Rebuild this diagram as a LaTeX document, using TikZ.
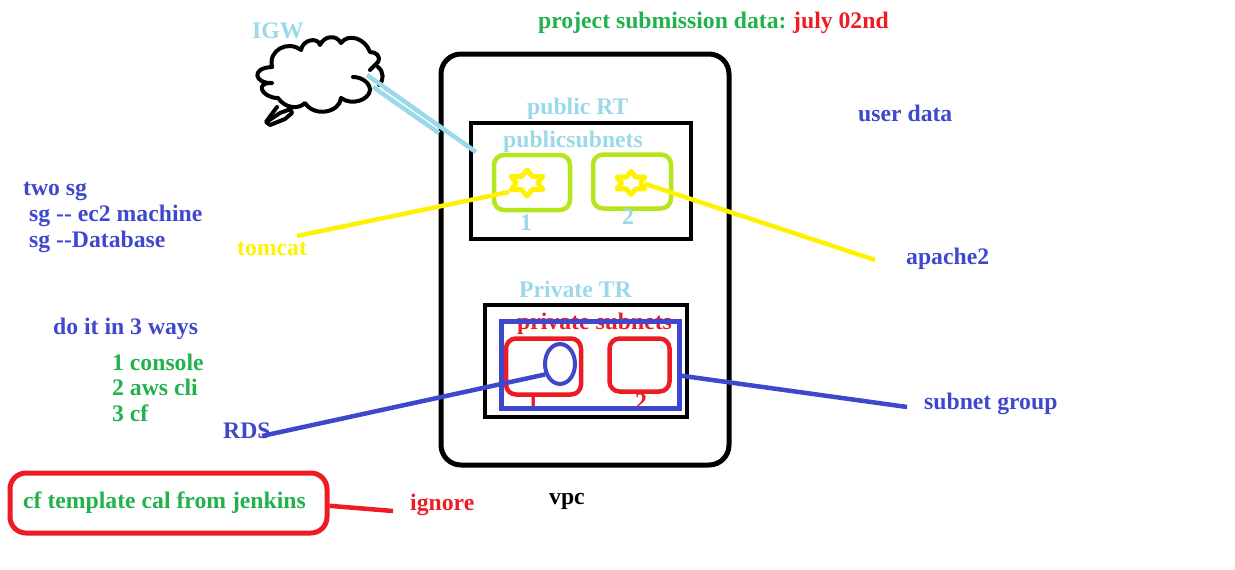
\documentclass[tikz,border=0pt]{standalone}
\usepackage{fontspec}
\setmainfont{Liberation Serif}
\usetikzlibrary{shapes.geometric}
\definecolor{skyblue}{HTML}{99D9EA}
\definecolor{paintgreen}{HTML}{22B14C}
\definecolor{paintred}{HTML}{ED1C24}
\definecolor{paintblue}{HTML}{3F48CC}
\definecolor{paintyellow}{HTML}{FFF200}
\definecolor{paintlime}{HTML}{B5E61D}
\begin{document}
\begin{tikzpicture}[x=1pt, y=-1pt,
  label/.style={inner sep=0pt, anchor=west, text height=18pt, text depth=4pt, font=\fontsize{23.7}{28}\selectfont\bfseries},
  box/.style={draw, line width=4.5pt, inner sep=0pt, minimum width=#1},
  subnetbox/.style={box=#1, rounded corners=10pt},
  starmark/.style={draw=paintyellow, star, star points=6, star point ratio=1.7, line width=5pt, line join=round, inner sep=0pt, minimum size=#1, xscale=1.4},
  link/.style={line width=4.5pt},
  cloudline/.style={line width=4pt, line cap=round, line join=round}]
\useasboundingbox (0,0) rectangle (1235,570);
% outer vpc
\node (vpc) at (585,259.5) [box=288pt, minimum height=411pt, line width=5pt, rounded corners=20pt] {};
\node (vpclabel) at (549,497) [label] {vpc};
% igw cloud
\draw[cloudline] (272,67) .. controls (268,50) and (288,40) .. (301,50)
  .. controls (303,39) and (318,37) .. (320,45)
  .. controls (324,36) and (336,34) .. (341,43)
  .. controls (348,33) and (365,38) .. (370,52)
  .. controls (376,52) and (381,56) .. (378,62) -- (370,70);
\draw[cloudline] (378,67) .. controls (384,72) and (384,80) .. (379,85);
\draw[cloudline] (353,77) .. controls (362,77) and (370,83) .. (370,90)
  .. controls (369,100) and (352,106) .. (341,98)
  .. controls (340,112) and (315,118) .. (305,103)
  .. controls (298,110) and (285,108) .. (278,98)
  .. controls (262,98) and (254,82) .. (272,83)
  .. controls (255,84) and (250,68) .. (272,67);
\draw[cloudline] (277,107) -- (266,122) -- (270,125) -- (285,119) -- (292,113) -- (290,108);
\draw[cloudline] (268,121) -- (280,113) -- (288,110);
\node (igw) at (252,31) [label, text=skyblue] {IGW};
% title
\node (title) at (538,21) [label, text=paintgreen] {project submission data:};
\node (titledate) at (793,21) [label, text=paintred] {july 02nd};
\node (userdata) at (858,114) [label, text=paintblue] {user data};
% public part
\node (publicrt) at (527,107) [label, text=skyblue] {public RT};
\node (publicbox) at (581,181) [box=220pt, minimum height=116pt] {};
\node (publicnets) at (503,140) [label, text=skyblue] {publicsubnets};
\node (pubnet1) at (532,182.5) [subnetbox=76pt, draw=paintlime, minimum height=55pt] {};
\node (pubnet2) at (632,181.5) [subnetbox=78pt, draw=paintlime, minimum height=54pt] {};
\node (num1) at (526,223) [label, anchor=center, text=skyblue] {1};
\node (num2) at (628,217) [label, anchor=center, text=skyblue] {2};
\node (star1) at (527,183) [starmark=26pt] {};
\node (star2) at (631,183) [starmark=23pt] {};
% private part
\node (privatetr) at (519,290) [label, text=skyblue] {Private TR};
\node (privatebox) at (586,361) [box=202pt, minimum height=112pt] {};
\node (privatenets) at (517,322) [label, text=paintred] {private subnets};
\node (privnum1) at (533,402) [label, anchor=center, text=paintred] {1};
\node (privnum2) at (641,402) [label, anchor=center, text=paintred] {2};
\node (privnet1) at (543.5,366.5) [subnetbox=75pt, draw=paintred, minimum height=56pt] {};
\node (privnet2) at (639.5,365) [subnetbox=60pt, draw=paintred, minimum height=53pt] {};
\node (subnetgroup) at (590,364.5) [box=178pt, minimum height=87pt, line width=5pt, draw=paintblue] {};
\node (rdsdb) at (560,364) [draw=paintblue, ellipse, line width=4pt, inner sep=0pt, minimum width=30pt, minimum height=40pt] {};
% left notes
\node (twosg) at (23,188) [label, text=paintblue] {two sg};
\node (sgec2) at (29,214) [label, text=paintblue] {sg {-}{-} ec2 machine};
\node (sgdb) at (29,240) [label, text=paintblue] {sg {-}{-}Database};
\node (tomcat) at (237,248) [label, text=paintyellow] {tomcat};
\node (ways) at (53,327) [label, text=paintblue] {do it in 3 ways};
\node (way1) at (112,363) [label, text=paintgreen] {1 console};
\node (way2) at (112,388) [label, text=paintgreen] {2 aws cli};
\node (way3) at (112,414) [label, text=paintgreen] {3 cf};
\node (rds) at (223,431) [label, text=paintblue] {RDS};
\node (cfbox) at (168.5,503) [subnetbox=317pt, draw=paintred, minimum height=60pt, line width=5pt, rounded corners=16pt] {};
\node (cftext) at (23,501) [label, text=paintgreen] {cf template cal from jenkins};
\node (ignore) at (410,503) [label, text=paintred] {ignore};
% right labels
\node (apache) at (906,257) [label, text=paintblue] {apache2};
\node (subnetlabel) at (924,402) [label, text=paintblue] {subnet group};
% free ends
\coordinate (igwa) at (367,75);
\coordinate (igwb) at (476,152);
\coordinate (igwc) at (373,87);
\coordinate (igwd) at (439,133);
\coordinate (tomcatend) at (297,236);
\coordinate (apacheend) at (875,260);
\coordinate (rdsend) at (262,436);
\coordinate (subnetend) at (907,407);
\coordinate (ignoreend) at (393,511);
% connectors
\draw[link, skyblue] (igwa) -- (igwb);
\draw[link, skyblue] (igwc) -- (igwd);
\draw[link, paintyellow] (tomcatend) -- (star1.215);
\draw[link, paintyellow] (star2.-5) -- (apacheend);
\draw[link, paintblue] (rdsend) -- (rdsdb.215);
\draw[link, paintblue] (subnetgroup.-7) -- (subnetend);
\draw[link, paintred] (cfbox.-1) -- (ignoreend);
\end{tikzpicture}
\end{document}
